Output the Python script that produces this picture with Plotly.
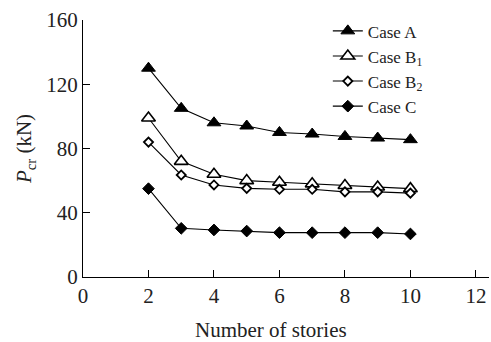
import plotly.graph_objects as go

# Critical load vs. number of stories for four cases
stories = [2, 3, 4, 5, 6, 7, 8, 9, 10]
case_a = [130, 105, 96, 94, 90, 89, 87.5, 86.5, 85.5]
case_b1 = [99, 72, 64, 60, 59, 58, 57, 56, 55]
case_b2 = [84, 63.5, 57.3, 55.2, 54.6, 54.6, 53, 53, 52.2]
case_c = [55, 30.3, 29.3, 28.6, 27.6, 27.6, 27.6, 27.6, 26.8]

x_ticks = [0, 2, 4, 6, 8, 10, 12]
y_ticks = [0, 40, 80, 120, 160]

FONT = "Liberation Serif, Times New Roman, serif"
INK = "#222222"

series = [
    ("Case A", case_a, dict(symbol="triangle-up", size=12, color="black",
                            line=dict(color="black", width=1))),
    ("Case B<sub>1</sub>", case_b1, dict(symbol="triangle-up", size=12, color="white",
                                        line=dict(color="black", width=1.6))),
    ("Case B<sub>2</sub>", case_b2, dict(symbol="diamond", size=7, color="white",
                                        line=dict(color="black", width=1.8))),
    ("Case C", case_c, dict(symbol="diamond", size=9, color="black",
                            line=dict(color="black", width=1))),
]

fig = go.Figure()
for name, vals, marker in series:
    fig.add_trace(go.Scatter(
        x=stories, y=vals, name=name, mode="lines+markers",
        line=dict(color="black", width=1.1), marker=marker,
    ))

axis_common = dict(
    showline=True, linecolor="black", linewidth=1.2,
    ticks="inside", ticklen=7, tickwidth=1.2, tickcolor="black",
    showgrid=False, zeroline=False,
    tickfont=dict(family=FONT, size=21, color=INK),
)

fig.update_layout(
    width=491, height=342,
    margin=dict(l=83, r=2, t=20, b=65),
    paper_bgcolor="white", plot_bgcolor="white",
    font=dict(family=FONT, color=INK),
    xaxis=dict(range=[0, 12.4], tickvals=x_ticks, **axis_common),
    yaxis=dict(range=[0, 160], tickvals=y_ticks,
               title=dict(text="<i>P</i><sub>cr</sub> (kN)", font=dict(family=FONT, size=21, color=INK),
                          standoff=8),
               **axis_common),
    legend=dict(x=0.603, y=1.026, xanchor="left", yanchor="top",
                font=dict(family=FONT, size=17, color=INK),
                bgcolor="rgba(0,0,0,0)", tracegroupgap=0),
    showlegend=True,
    annotations=[dict(
        text="Number of stories", xref="paper", yref="paper",
        x=0.463, y=-0.206, xanchor="center", yanchor="middle",
        showarrow=False, font=dict(family=FONT, size=21, color=INK),
    )],
)

fig.write_html("out.html")
